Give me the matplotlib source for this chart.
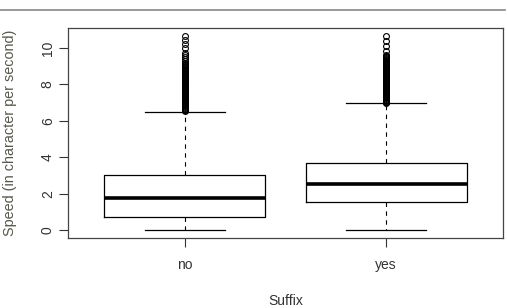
import matplotlib
matplotlib.use('Agg')
import matplotlib.pyplot as plt
from matplotlib.lines import Line2D

# Data
groups = ['no', 'yes']
q1 = [0.74, 1.53]
medians = [1.75, 2.53]
q3 = [3.03, 3.67]
whisk_lo = [0.0, 0.0]
whisk_hi = [6.51, 6.96]
outliers_no = [6.53, 6.57, 6.6, 6.65, 6.7, 6.75, 6.8, 6.85, 6.9, 6.95, 7.0,
               7.05, 7.1, 7.15, 7.2, 7.25, 7.3, 7.35, 7.4, 7.45, 7.5, 7.55,
               7.6, 7.65, 7.7, 7.75, 7.8, 7.85, 7.9, 7.95, 8.0, 8.05, 8.1,
               8.15, 8.2, 8.25, 8.3, 8.35, 8.4, 8.45, 8.5, 8.55, 8.6, 8.65,
               8.7, 8.75, 8.8, 8.85, 8.9, 8.95, 9.0, 9.05, 9.1, 9.2, 9.3,
               9.4, 9.5, 9.62, 9.75, 9.98, 10.21, 10.45, 10.67]
outliers_yes = [6.98, 7.02, 7.05, 7.1, 7.15, 7.2, 7.25, 7.3, 7.35, 7.4, 7.45,
                7.5, 7.55, 7.6, 7.65, 7.7, 7.75, 7.8, 7.85, 7.9, 7.95, 8.0,
                8.05, 8.1, 8.15, 8.2, 8.25, 8.3, 8.35, 8.4, 8.45, 8.5, 8.55,
                8.6, 8.65, 8.7, 8.75, 8.8, 8.85, 8.9, 8.95, 9.0, 9.05, 9.1,
                9.15, 9.2, 9.25, 9.3, 9.35, 9.4, 9.45, 9.5, 9.55, 9.6,
                9.85, 10.12, 10.39, 10.67]
yticks = [0, 2, 4, 6, 8, 10]

plt.rcParams['font.family'] = ['Liberation Sans', 'DejaVu Sans']

fig = plt.figure(figsize=(5.07, 3.08), dpi=100)
ax = fig.add_axes([68 / 507, 70 / 308, 435 / 507, 210 / 308])

stats = []
fliers = [outliers_no, outliers_yes]
for i, g in enumerate(groups):
    stats.append(dict(label=g, med=medians[i], q1=q1[i], q3=q3[i],
                      whislo=whisk_lo[i], whishi=whisk_hi[i], fliers=fliers[i]))

ax.bxp(stats, positions=[1, 2], widths=0.8, capwidths=0.4, showfliers=True,
       boxprops=dict(color='black', linewidth=0.9),
       medianprops=dict(color='black', linewidth=2.6, solid_capstyle='butt'),
       whiskerprops=dict(color='black', linewidth=0.8, linestyle=(0, (4, 4))),
       capprops=dict(color='black', linewidth=0.9),
       flierprops=dict(marker='o', markerfacecolor='none', markeredgecolor='black',
                       markersize=4.2, markeredgewidth=0.8))

# R style 4% padding
lo = min(whisk_lo)
hi = max(max(outliers_no), max(outliers_yes))
pad = 0.04 * (hi - lo)
ax.set_ylim(lo - pad, hi + pad)
ax.set_xlim(0.5 - 0.08, 2.5 + 0.08)

ax.set_yticks(yticks)
ax.set_yticklabels([str(t) for t in yticks], rotation=90, va='center')
ax.set_xticks([1, 2])
ax.set_xticklabels(groups)
ax.tick_params(axis='both', length=6.5, width=0.8, color='#333333',
               labelsize=10, labelcolor='#333333')
ax.tick_params(axis='x', pad=8)
ax.tick_params(axis='y', pad=3)

for s in ax.spines.values():
    s.set_color('#444444')
    s.set_linewidth(0.9)

ax.set_xlabel('Suffix', fontsize=10, color='#333333', labelpad=16)
ax.set_ylabel('Speed (in character per second)', fontsize=10.4,
              color='#55584c', labelpad=17)

# page header rule
fig.add_artist(Line2D([0, 505 / 507], [298 / 308, 298 / 308],
                      transform=fig.transFigure, color='#888888', linewidth=1.2))

fig.savefig('out.png', dpi=100)
